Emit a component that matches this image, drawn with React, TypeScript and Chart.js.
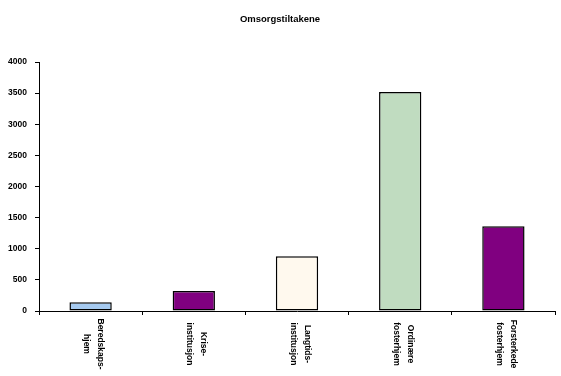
import React, { useEffect, useRef } from "react";
import { Chart, registerables } from "chart.js";

Chart.register(...registerables);

const TITLE = "Omsorgstiltakene";
const CATEGORIES: string[][] = [
  ["Beredskaps-", "hjem"],
  ["Krise-", "institusjon"],
  ["Langtids-", "institusjon"],
  ["Ordinære", "fosterhjem"],
  ["Forsterkede", "fosterhjem"],
];
const VALUES = [140, 320, 880, 3520, 1360];
const BAR_COLORS = ["#A6CAF0", "#800080", "#FFF9EE", "#C0DCC0", "#800080"];
const Y_MAX = 4000;
const Y_STEP = 500;

const FONT = "'Liberation Sans', Arial, sans-serif";

export default function App() {
  const ref = useRef<HTMLCanvasElement | null>(null);

  useEffect(() => {
    if (!ref.current) return;
    const labelPlugin = {
      id: "customLabels",
      afterDraw(chart: any) {
        const ctx = chart.ctx;
        const xs = chart.scales.x;
        ctx.save();
        ctx.fillStyle = "#000";
        ctx.font = `bold 9.5px ${FONT}`;
        ctx.textAlign = "center";
        ctx.textBaseline = "middle";
        ctx.fillText(TITLE, 280, 19);
        ctx.font = `bold 8.5px ${FONT}`;
        CATEGORIES.forEach((lines, i) => {
          const cx = xs.getPixelForValue(i);
          ctx.save();
          ctx.translate(cx + 3, 344);
          ctx.rotate(Math.PI / 2);
          const n = lines.length;
          lines.forEach((ln, j) => {
            const off = (j - (n - 1) / 2) * 14;
            ctx.fillText(ln, 0, off);
          });
          ctx.restore();
        });
        ctx.restore();
      },
    };

    const chart = new Chart(ref.current, {
      type: "bar",
      data: {
        labels: CATEGORIES.map((c) => c.join(" ")),
        datasets: [
          {
            data: VALUES,
            backgroundColor: BAR_COLORS,
            borderColor: "#000",
            borderWidth: 1.5,
            borderSkipped: false,
            barPercentage: 0.41,
            categoryPercentage: 1,
          },
        ],
      },
      options: {
        responsive: false,
        animation: false,
        layout: { padding: { left: 8, right: 6, top: 62, bottom: 61 } },
        plugins: {
          legend: { display: false },
          title: { display: false },
          tooltip: { enabled: false },
        },
        scales: {
          x: {
            offset: true,
            ticks: { display: false },
            grid: {
              offset: true,
              drawOnChartArea: false,
              drawTicks: true,
              tickLength: 4,
              color: "#000",
              lineWidth: 1,
            },
            border: { display: true, color: "#000", width: 1 },
          },
          y: {
            min: 0,
            max: Y_MAX,
            afterFit: (scale: any) => {
              scale.width = 31;
            },
            ticks: {
              stepSize: Y_STEP,
              color: "#000",
              padding: 8,
              font: { family: FONT, size: 8.5, weight: "bold" },
              callback: (v: any) => String(v),
            },
            grid: {
              drawOnChartArea: false,
              drawTicks: true,
              tickLength: 4,
              color: "#000",
              lineWidth: 1,
            },
            border: { display: true, color: "#000", width: 1 },
          },
        },
      },
      plugins: [labelPlugin],
    });
    return () => chart.destroy();
  }, []);

  return (
    <div style={{ position: "fixed", left: 0, top: 0, width: 561, height: 376, background: "#fff" }}>
      <canvas ref={ref} width={561} height={376} style={{ display: "block" }} />
    </div>
  );
}
